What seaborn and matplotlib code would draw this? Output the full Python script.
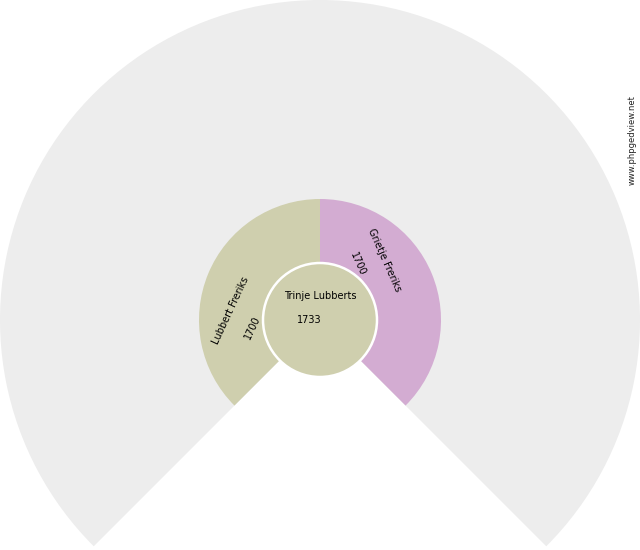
import numpy as np
import seaborn as sns
import matplotlib.pyplot as plt
from matplotlib.patches import Wedge, Circle

# fan chart data
names = ['Trinje Lubberts', 'Lubbert Freriks', 'Grietje Freriks']
years = ['1733', '1700', '1700']
colors = ['#cfcfae', '#cfcfae', '#d3acd2']
# ring 2 angle spans (degrees, counter-clockwise, 0 = east)
spans = [(90, 225), (-45, 90)]

# geometry (pixels)
r0, r1, rmax = 57, 121, 320
fan = (-45, 225)

sns.set_theme(style='white')
plt.rcParams['font.family'] = ['DejaVu Sans']

fig = plt.figure(figsize=(6.4, 5.5), dpi=100)
ax = fig.add_axes([0, 0, 1, 1])
ax.set_xlim(-320, 320)
ax.set_ylim(-230, 320)
ax.set_aspect('equal')
ax.axis('off')

# empty generations background
ax.add_patch(Wedge((0, 0), rmax, fan[0], fan[1], facecolor='#ededed', edgecolor='none'))

# parents
for (t1, t2), c in zip(spans, colors[1:]):
    ax.add_patch(Wedge((0, 0), r1, t1, t2, width=r1 - r0, facecolor=c, edgecolor='none'))

# root person
ax.add_patch(Circle((0, 0), r0, facecolor=colors[0], edgecolor='white', linewidth=1.8))

fs = 7
ax.text(0, 24, names[0], ha='center', va='center', fontsize=fs, color='black')
ax.text(-11, 0, years[0], ha='center', va='center', fontsize=fs, color='black')

# parent labels: (radius, angle) for name and year, text rotation
label_pos = [((90, 174), (68, 186), 65), ((88, 43), (68, 56), -66)]
for i, ((rn, an), (ry, ay), rot) in enumerate(label_pos, start=1):
    ax.text(rn * np.cos(np.radians(an)), rn * np.sin(np.radians(an)), names[i],
            ha='center', va='center', rotation=rot, fontsize=fs, color='black',
            rotation_mode='anchor')
    ax.text(ry * np.cos(np.radians(ay)), ry * np.sin(np.radians(ay)), years[i],
            ha='center', va='center', rotation=rot, fontsize=fs, color='black',
            rotation_mode='anchor')

ax.text(312, 180, 'www.phpgedview.net', ha='center', va='center', rotation=90,
        fontsize=6, color='#222222')

fig.savefig('out.png', dpi=100, facecolor='white')
